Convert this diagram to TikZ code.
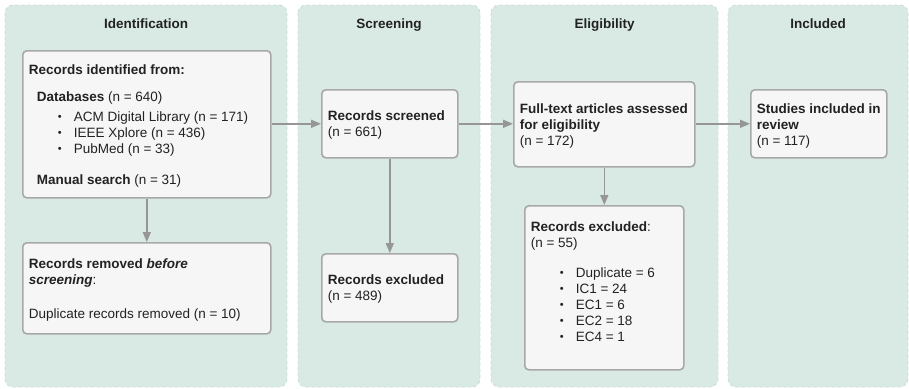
\documentclass[tikz,border=0pt]{standalone}
\usepackage{fontspec}
\setmainfont{Liberation Sans}
\usetikzlibrary{arrows.meta}
\definecolor{panelfill}{RGB}{217,234,229}
\definecolor{paneledge}{RGB}{200,222,216}
\definecolor{boxfill}{RGB}{246,246,246}
\definecolor{boxedge}{RGB}{168,168,168}
\definecolor{arrowc}{RGB}{150,150,150}
\definecolor{txt}{RGB}{34,34,34}
\newcommand{\bxt}[4]{\parbox[c][#2pt][t]{#1pt}{\raggedright\vspace*{#3pt}#4}}
\newcommand{\itm}[1]{\hspace*{35pt}\makebox[16pt][l]{\raisebox{1.2pt}{\fontsize{11}{11}\selectfont\textbullet}}#1}
\newcommand{\lnx}[1]{\hspace*{6pt}#1}
\begin{document}
\begin{tikzpicture}[x=1pt,y=-1pt,
  font=\fontsize{13.5}{16}\selectfont\color{txt},
  panel/.style={draw=paneledge, dashed, line width=0.8pt, fill=panelfill, rounded corners=8pt},
  ptitle/.style={font=\fontsize{13.5}{16}\selectfont\bfseries\color{txt}, anchor=base, inner sep=0pt},
  box/.style={draw=boxedge, line width=1.6pt, fill=boxfill, rounded corners=4pt, inner sep=0pt, anchor=north west},
  arr/.style={draw=arrowc, line width=1.6pt, -{Triangle[length=10pt,width=8pt]}}
]
\useasboundingbox (0,0) rectangle (909,388);
% panels
\path[panel] (5,5) rectangle (287,387);
\path[panel] (298,5) rectangle (480,387);
\path[panel] (491,5) rectangle (718,387);
\path[panel] (728,5) rectangle (908,387);
\node[ptitle] (t1) at (146,28) {Identification};
\node[ptitle] (t2) at (389,28) {Screening};
\node[ptitle] (t3) at (604.5,28) {Eligibility};
\node[ptitle] (t4) at (818,28) {Included};
% boxes
\node[box] (ident) at (22,50) {\bxt{248}{147}{12.8}{%
  \lnx{\strut\textbf{Records identified from:}}\\[11pt]
  \hspace*{14pt}\textbf{Databases} (n = 640)\\[4pt]
  \itm{ACM Digital Library (n = 171)}\\
  \itm{IEEE Xplore (n = 436)}\\
  \itm{PubMed (n = 33)}\\[15pt]
  \hspace*{14pt}\textbf{Manual search} (n = 31)}};
\node[box] (removed) at (22,242) {\bxt{248}{91}{14.8}{%
  \lnx{\strut\textbf{Records removed \textit{before}}}\\
  \lnx{\textbf{\textit{screening}}:}\\[18pt]
  \lnx{Duplicate records removed (n = 10)}}};
\node[box] (screened) at (321,89) {\bxt{136}{68}{19.8}{%
  \lnx{\strut\textbf{Records screened}}\\
  \lnx{(n = 661)}}};
\node[box] (excl1) at (321,253) {\bxt{136}{68}{19.3}{%
  \lnx{\strut\textbf{Records excluded}}\\
  \lnx{(n = 489)}}};
\node[box] (fulltext) at (513,81) {\bxt{181}{85}{20.5}{%
  \lnx{\strut\textbf{Full-text articles assessed}}\\
  \lnx{\textbf{for eligibility}}\\
  \lnx{(n = 172)}}};
\node[box] (excl2) at (524,205) {\bxt{159}{164}{14.5}{%
  \lnx{\strut\textbf{Records excluded}:}\\
  \lnx{(n = 55)}\\[14pt]
  \itm{Duplicate = 6}\\
  \itm{IC1 = 24}\\
  \itm{EC1 = 6}\\
  \itm{EC2 = 18}\\
  \itm{EC4 = 1}}};
\node[box] (included) at (750,89) {\bxt{136}{68}{12.5}{%
  \lnx{\strut\textbf{Studies included in}}\\
  \lnx{\textbf{review}}\\
  \lnx{(n = 117)}}};
% connectors
\draw[arr] (ident.east |- screened.west) -- (screened.west);
\draw[arr] (screened.east) -- (fulltext.west |- screened.east);
\draw[arr] (fulltext.east |- included.west) -- (included.west);
\draw[arr] (ident.south) -- (removed.north);
\draw[arr] (screened.south) -- (excl1.north);
\draw[arr] (fulltext.south) -- (excl2.north);
\end{tikzpicture}
\end{document}
